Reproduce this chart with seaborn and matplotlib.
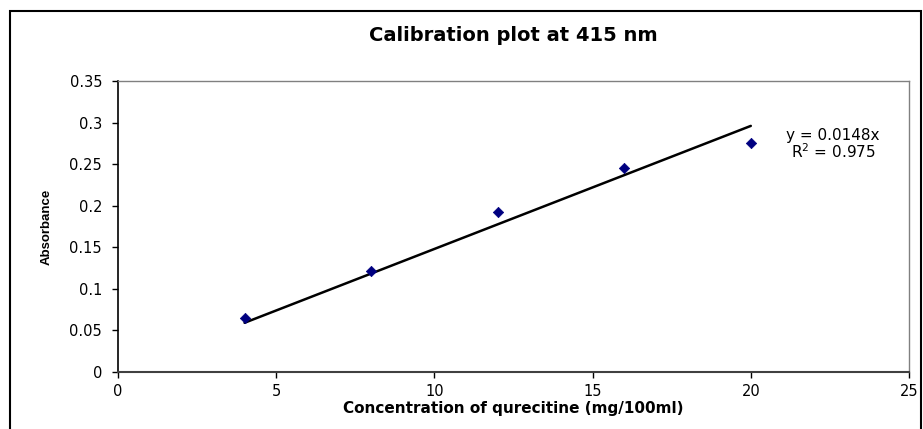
import matplotlib
matplotlib.use("Agg")
import matplotlib.pyplot as plt
import matplotlib.patches as patches
import numpy as np
import pandas as pd
import seaborn as sns

# data
concentration = [4, 8, 12, 16, 20]
absorbance = [0.065, 0.122, 0.192, 0.245, 0.276]
slope = 0.0148
r_squared = 0.975
x_ticks = [0, 5, 10, 15, 20, 25]
y_ticks = [0, 0.05, 0.1, 0.15, 0.2, 0.25, 0.3, 0.35]
y_tick_labels = ["0", "0.05", "0.1", "0.15", "0.2", "0.25", "0.3", "0.35"]


def main():
    sns.set_style("white")
    plt.rcParams["font.family"] = ["DejaVu Sans"]
    plt.rcParams.update({"text.color": "black", "axes.labelcolor": "black",
                         "xtick.color": "black", "ytick.color": "black"})

    df = pd.DataFrame({"conc": concentration, "abs": absorbance})
    trend_x = np.array([concentration[0], concentration[-1]], dtype=float)
    trend = pd.DataFrame({"conc": trend_x, "abs": slope * trend_x})

    W, H = 923, 429
    fig = plt.figure(figsize=(W / 100, H / 100), dpi=100)
    ax = fig.add_axes([118 / W, 1 - 372 / H, (909 - 118) / W, (372 - 81) / H])

    sns.lineplot(data=trend, x="conc", y="abs", color="black", linewidth=1.8, ax=ax)
    sns.scatterplot(data=df, x="conc", y="abs", marker="D", s=28, color="#000080",
                    edgecolor="#000080", linewidth=0.5, ax=ax, zorder=3)

    ax.set_xlim(0, 25)
    ax.set_ylim(0, 0.35)
    ax.set_xticks(x_ticks)
    ax.set_xticklabels([str(t) for t in x_ticks])
    ax.set_yticks(y_ticks)
    ax.set_yticklabels(y_tick_labels)
    ax.tick_params(axis="both", labelsize=10.5, length=4.5, width=1, direction="out",
                   color="black", bottom=True, left=True)
    ax.tick_params(axis="y", pad=7)
    ax.tick_params(axis="x", pad=4)

    for side in ["top", "right"]:
        ax.spines[side].set_color("#808080")
        ax.spines[side].set_linewidth(1)
    ax.spines["left"].set_color("black")
    ax.spines["left"].set_linewidth(1.2)
    ax.spines["bottom"].set_color("#404040")
    ax.spines["bottom"].set_linewidth(1.5)

    fig.text(0.5 * (118 + 909) / W, 1 - 41 / H, "Calibration plot at 415 nm",
             fontsize=14, fontweight="bold", ha="center", va="baseline")

    ax.set_xlabel("Concentration of qurecitine (mg/100ml)", fontsize=11,
                  fontweight="bold")
    ax.xaxis.label.set_va("center")
    ax.xaxis.set_label_coords(0.5, (372 - 408) / 291)

    ax.set_ylabel("Absorbance", fontsize=9.5, fontweight="bold",
                  family=["Liberation Sans", "DejaVu Sans"])
    ax.yaxis.label.set_va("center")
    ax.yaxis.set_label_coords((47 - 118) / 791, 0.5)

    eq_text = f"y = {slope}x\nR$^2$ = {r_squared:.3f}"
    ax.text(22.6, 0.2735, eq_text, fontsize=11, ha="center", va="center",
            multialignment="center", linespacing=0.95)

    border = patches.Rectangle((10 / W, -0.05), (921 - 10) / W, 1.05 - 11 / H,
                               transform=fig.transFigure, fill=False,
                               edgecolor="black", linewidth=1.5, clip_on=False)
    fig.patches.append(border)

    fig.savefig("out.png", dpi=100)


if __name__ == "__main__":
    main()
